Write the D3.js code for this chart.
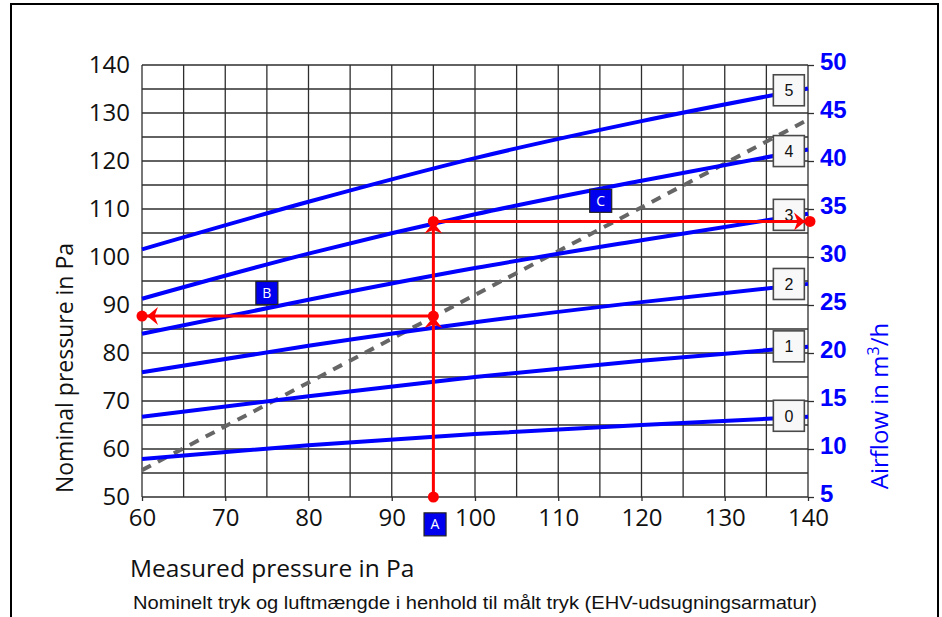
<!DOCTYPE html>
<html>
<head>
<meta charset="utf-8">
<script src="https://cdn.jsdelivr.net/npm/d3@7"></script>
<style>
  body { margin: 0; background: #fff; }
  svg { display: block; }
</style>
</head>
<body>
<svg id="chart"></svg>
<script>
/* data */
const measuredX = [60, 80, 100, 120, 140];
const level0 = [57.9, 60.8, 63.1, 65.0, 66.7];
const level1 = [66.7, 71.0, 75.0, 78.4, 81.3];
const level2 = [76.0, 81.5, 86.4, 90.6, 94.4];
const level3 = [84.0, 91.1, 97.7, 103.5, 109.0];
const level4 = [91.3, 100.7, 108.9, 115.9, 122.4];
const level5 = [101.6, 111.5, 120.6, 128.3, 135.1];
const levelNames = ["0", "1", "2", "3", "4", "5"];

const dashX = [60, 140];
const dashY = [55.6, 128.6];

const xTicks = [60, 70, 80, 90, 100, 110, 120, 130, 140];
const yTicks = [50, 60, 70, 80, 90, 100, 110, 120, 130, 140];
const flowTicks = [5, 10, 15, 20, 25, 30, 35, 40, 45, 50];

/* example reading: A = measured, B = nominal, C = airflow */
const readA = 95;
const readB = 87.7;
const readC = 33.7;
const letters = ["A", "B", "C"];
const letterX = [95.2, 75, 115.1];
const letterY = [44.3, 92.5, 111.7];

const W = 942, H = 617;
const margin = { top: 65, right: 134, bottom: 120, left: 142 };
const width = W - margin.left - margin.right;
const height = H - margin.top - margin.bottom;

const BLUE = "#0000ff";
const RED = "#ff0000";

const svg = d3.select("#chart").attr("width", W).attr("height", H);

/* outer frame */
svg.append("rect")
  .attr("x", 11).attr("y", 4)
  .attr("width", 927).attr("height", 650)
  .attr("fill", "none").attr("stroke", "#000").attr("stroke-width", 2);

const g = svg.append("g").attr("transform", `translate(${margin.left},${margin.top})`);

const x = d3.scaleLinear().domain([60, 140]).range([0, width]);
const y = d3.scaleLinear().domain([50, 140]).range([height, 0]);
const yFlow = d3.scaleLinear().domain([5, 50]).range([height, 0]);

/* grid every 5 */
g.append("g").selectAll("line")
  .data(d3.range(60, 141, 5))
  .join("line")
  .attr("x1", d => x(d)).attr("x2", d => x(d))
  .attr("y1", 0).attr("y2", height)
  .attr("stroke", "#2e2e2e").attr("stroke-width", 1.3);
g.append("g").selectAll("line")
  .data(d3.range(50, 141, 5))
  .join("line")
  .attr("x1", 0).attr("x2", width)
  .attr("y1", d => y(d)).attr("y2", d => y(d))
  .attr("stroke", "#2e2e2e").attr("stroke-width", 1.3);

/* axes */
const xAxis = g.append("g")
  .attr("transform", `translate(0,${height})`)
  .call(d3.axisBottom(x).tickValues(xTicks).tickSize(4).tickPadding(8));
const yAxis = g.append("g")
  .call(d3.axisLeft(y).tickValues(yTicks).tickSize(0).tickPadding(12));
const rAxis = g.append("g")
  .attr("transform", `translate(${width},0)`)
  .call(d3.axisRight(yFlow).tickValues(flowTicks).tickSize(6).tickPadding(6));

[xAxis, yAxis, rAxis].forEach(a => a.select(".domain").remove());
xAxis.selectAll("line").attr("stroke", "#2e2e2e").attr("stroke-width", 1.3);
rAxis.selectAll("line").attr("stroke", "#2e2e2e").attr("stroke-width", 1.3);
xAxis.selectAll("text").attr("font-family", "Open Sans").attr("font-size", 24).attr("fill", "#111");
yAxis.selectAll("text").attr("font-family", "Open Sans").attr("font-size", 24).attr("fill", "#111");
rAxis.selectAll("text").attr("font-family", "Liberation Sans, Arial").attr("font-size", 24)
  .attr("font-weight", "bold").attr("fill", BLUE).attr("dy", "0.18em");

/* titles */
svg.append("text")
  .attr("transform", `translate(73,368) rotate(-90)`)
  .attr("text-anchor", "middle")
  .attr("font-family", "Open Sans").attr("font-size", 23).attr("fill", "#111")
  .text("Nominal pressure in Pa");

const flowTitle = svg.append("text")
  .attr("transform", `translate(888,406) rotate(-90)`)
  .attr("text-anchor", "middle")
  .attr("font-family", "Open Sans").attr("font-size", 24).attr("fill", BLUE);
flowTitle.append("tspan").text("Airflow in m");
flowTitle.append("tspan").attr("font-size", 16).attr("dy", -9).text("3");
flowTitle.append("tspan").attr("dy", 9).text("/h");

svg.append("text")
  .attr("x", 130).attr("y", 577)
  .attr("font-family", "Open Sans").attr("font-size", 24.5).attr("fill", "#111")
  .text("Measured pressure in Pa");

svg.append("text")
  .attr("x", 133).attr("y", 609)
  .attr("font-family", "Liberation Sans, Arial").attr("font-size", 17.5).attr("fill", "#111")
  .attr("textLength", 684).attr("lengthAdjust", "spacingAndGlyphs")
  .text("Nominelt tryk og luftmængde i henhold til målt tryk (EHV-udsugningsarmatur)");

/* dashed reference line */
g.append("path")
  .datum(dashX.map((d, i) => [d, dashY[i]]))
  .attr("fill", "none")
  .attr("stroke", "#666").attr("stroke-width", 4)
  .attr("stroke-dasharray", "10,8")
  .attr("d", d3.line().x(d => x(d[0])).y(d => y(d[1])));

/* airflow levels */
const levels = [level0, level1, level2, level3, level4, level5];
const line = d3.line()
  .x(d => x(d[0])).y(d => y(d[1]))
  .curve(d3.curveMonotoneX);

g.append("g").selectAll("path")
  .data(levels)
  .join("path")
  .attr("fill", "none")
  .attr("stroke", BLUE).attr("stroke-width", 4)
  .attr("d", vals => line(measuredX.map((m, i) => [m, vals[i]])));

/* level boxes near the right edge */
const boxX = 137.7;
const valueAt = (vals, xv) => {
  const i = d3.bisectLeft(measuredX, xv) - 1;
  const t = (xv - measuredX[i]) / (measuredX[i + 1] - measuredX[i]);
  return vals[i] + t * (vals[i + 1] - vals[i]);
};
const boxes = g.append("g").selectAll("g")
  .data(levels)
  .join("g")
  .attr("transform", (vals) => `translate(${x(boxX)},${y(valueAt(vals, boxX)) - 2})`);
boxes.append("rect")
  .attr("x", -15.5).attr("y", -15.5).attr("width", 31).attr("height", 31)
  .attr("fill", "#f8f8f8").attr("stroke", "#4a4a4a").attr("stroke-width", 1.6);
boxes.append("text")
  .attr("text-anchor", "middle").attr("dy", "0.36em")
  .attr("font-family", "Liberation Sans, Arial").attr("font-size", 16).attr("fill", "#111")
  .text((d, i) => levelNames[i]);

/* red reading lines */
const red = g.append("g");
const xA = x(readA), yB = y(readB), yC = yFlow(readC);
red.append("path")
  .attr("fill", "none").attr("stroke", RED).attr("stroke-width", 3)
  .attr("d", `M${xA},${y(50)}V${yC}M${xA},${yB}H${x(60)}M${xA},${yC}H${x(140)}`);

const dots = [[xA, y(50)], [xA, yB], [x(60), yB], [xA, yC], [x(140) + 2, yC]];
red.selectAll("circle")
  .data(dots)
  .join("circle")
  .attr("cx", d => d[0]).attr("cy", d => d[1]).attr("r", 5.5)
  .attr("fill", RED);

/* arrowheads, tip at origin pointing +x */
const arrowShape = "M0,0L-11,-9L-7.5,0L-11,9Z";
const arrows = [
  [xA, yB + 1, -90],
  [xA, yC + 1, -90],
  [x(60) + 5, yB, 180],
  [x(140) - 3, yC, 0]
];
red.selectAll("path.arrow")
  .data(arrows)
  .join("path")
  .attr("class", "arrow")
  .attr("d", arrowShape)
  .attr("fill", RED)
  .attr("transform", d => `translate(${d[0]},${d[1]}) rotate(${d[2]})`);

/* A B C tags */
const tags = g.append("g").selectAll("g")
  .data(letters)
  .join("g")
  .attr("transform", (d, i) => `translate(${x(letterX[i])},${y(letterY[i])})`);
tags.append("rect")
  .attr("x", -11).attr("y", -11.5).attr("width", 22).attr("height", 23)
  .attr("fill", "#0000ee").attr("stroke", "#222").attr("stroke-width", 1.2);
tags.append("text")
  .attr("text-anchor", "middle").attr("dy", "0.36em")
  .attr("font-family", "Open Sans").attr("font-size", 14).attr("fill", "#fff")
  .text(d => d);
</script>
</body>
</html>
